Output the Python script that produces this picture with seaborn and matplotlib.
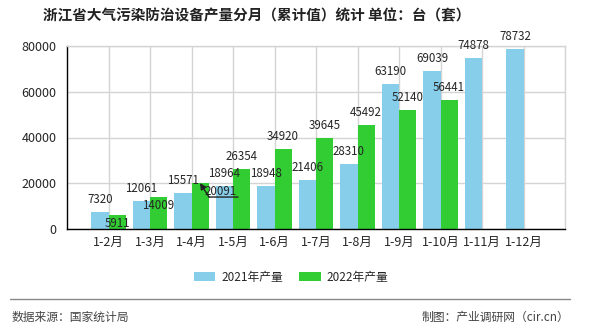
import numpy as np
import pandas as pd
import matplotlib
matplotlib.use("Agg")
import matplotlib.pyplot as plt
import seaborn as sns
from matplotlib.transforms import offset_copy
from matplotlib.lines import Line2D
from matplotlib.patches import Patch

# ---- data ----
months = ["1-2月", "1-3月", "1-4月", "1-5月", "1-6月", "1-7月", "1-8月",
          "1-9月", "1-10月", "1-11月", "1-12月"]
prod_2021 = [7320, 12061, 15571, 18964, 18948, 21406, 28310, 63190, 69039, 74878, 78732]
prod_2022 = [5911, 14009, 20091, 26354, 34920, 39645, 45492, 52140, 56441, np.nan, np.nan]
series_names = ["2021年产量", "2022年产量"]
y_ticks = [0, 20000, 40000, 60000, 80000]
leader_labels = ["1-4月"]

title = "浙江省大气污染防治设备产量分月（累计值）统计 单位：台（套）"
source = "数据来源：国家统计局"
maker = "制图：产业调研网（cir.cn）"

colors = ["#87CEEB", "#32CD32"]

sns.set_style("white")
plt.rcParams["font.family"] = ["Noto Sans CJK SC", "DejaVu Sans"]

df = pd.DataFrame({
    "月份": months * 2,
    "产量": prod_2021 + prod_2022,
    "年份": [series_names[0]] * len(months) + [series_names[1]] * len(months),
}).dropna()

fig = plt.figure(figsize=(5.9, 3.3), dpi=100)
ax = fig.add_axes([67 / 590, 1 - 229 / 330, (565 - 67) / 590, (229 - 46) / 330])

sns.barplot(data=df, x="月份", y="产量", hue="年份", order=months,
            hue_order=series_names, palette=colors, saturation=1,
            width=0.82, legend=False, ax=ax, errorbar=None,
            linewidth=0, edgecolor="none")

ax.set_xlim(-1, len(months))
ax.set_ylim(0, 80000)
ax.set_yticks(y_ticks)
ax.set_yticklabels([str(v) for v in y_ticks])
ax.set_xlabel("")
ax.set_ylabel("")
ax.set_axisbelow(True)
ax.grid(True, color="#d4d4d4", lw=1)
for s in ["top", "right"]:
    ax.spines[s].set_color("#d4d4d4")
    ax.spines[s].set_linewidth(1)
for s in ["left", "bottom"]:
    ax.spines[s].set_color("black")
    ax.spines[s].set_linewidth(1)
ax.tick_params(axis="y", length=6.5, width=1, color="black", labelsize=9, pad=1)
ax.tick_params(axis="x", length=3, width=1, color="black", labelsize=9, pad=2)

LBL = 8.3

# ---- value labels ----
blue_bars = ax.containers[0]
green_bars = ax.containers[1]
blue_top = {}
for p, m in zip(blue_bars.patches, months):
    h = p.get_height()
    blue_top[m] = h
    ax.annotate(f"{int(h)}", xy=(p.get_x() + p.get_width() / 2, h),
                xytext=(0, 6), textcoords="offset pixels",
                ha="center", va="bottom", fontsize=LBL)

for p, m in zip(green_bars.patches, months):
    h = p.get_height()
    if np.isnan(h):
        continue
    cx = p.get_x() + p.get_width() / 2
    if m in leader_labels:
        ax.annotate(f"{int(h)}", xy=(cx, h), xytext=(21, -2),
                    textcoords="offset pixels", ha="center", va="top", fontsize=LBL)
        ax.annotate("", xy=(cx, h), xytext=(9, -14), textcoords="offset pixels",
                    arrowprops=dict(arrowstyle="-|>", color="#222222", lw=1,
                                    mutation_scale=9, shrinkA=0, shrinkB=0))
        ax.annotate("", xy=(cx, h),
                    xycoords=offset_copy(ax.transData, fig=fig, x=9, y=-14, units="dots"),
                    xytext=(29, 0), textcoords="offset pixels",
                    arrowprops=dict(arrowstyle="-", color="#222222", lw=1,
                                    shrinkA=0, shrinkB=0))
    elif abs(h - blue_top[m]) < 6000:
        ax.annotate(f"{int(h)}", xy=(cx, h), xytext=(0, -2),
                    textcoords="offset pixels", ha="center", va="top", fontsize=LBL)
    else:
        ax.annotate(f"{int(h)}", xy=(cx, h), xytext=(0, 6),
                    textcoords="offset pixels", ha="center", va="bottom", fontsize=LBL)

# ---- title ----
fig.text(257 / 590, 1 - 15 / 330, title, ha="center", va="center",
         fontsize=10.5, fontweight="bold", color="#222222")

# ---- legend ----
handles = [Patch(facecolor=c, edgecolor="none") for c in colors]
fig.legend(handles, series_names, loc="center", bbox_to_anchor=(291 / 590, 1 - 277 / 330),
           ncol=2, frameon=False, fontsize=8.5, handlelength=1.8, handleheight=0.75,
           handletextpad=0.5, columnspacing=1.4, borderaxespad=0, borderpad=0)

# ---- footer ----
fig.add_artist(Line2D([10 / 590, 570 / 590], [1 - 299 / 330, 1 - 299 / 330],
                      color="#888888", lw=1, transform=fig.transFigure))
fig.text(12 / 590, 1 - 317 / 330, source, ha="left", va="center", fontsize=8.5, color="#444444")
fig.text(569 / 590, 1 - 317 / 330, maker, ha="right", va="center", fontsize=8.5, color="#444444")

fig.savefig("out.png", dpi=100)
